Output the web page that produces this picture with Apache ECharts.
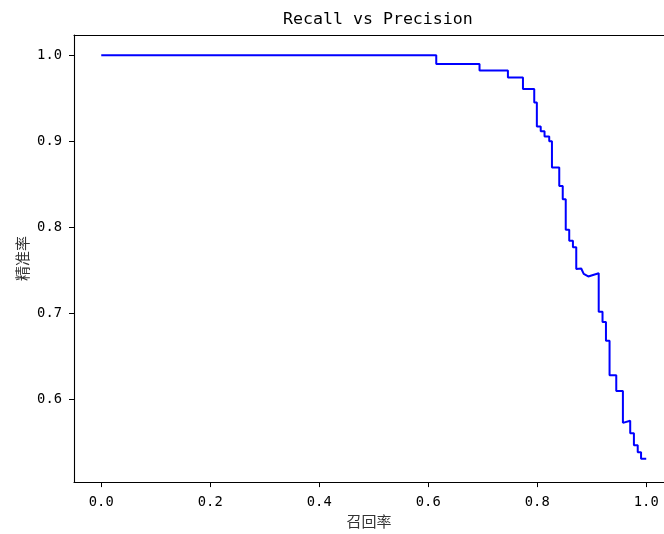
<!DOCTYPE html>
<html>
<head>
<meta charset="utf-8">
<script src="https://cdn.jsdelivr.net/npm/echarts@6/dist/echarts.min.js"></script>
<style>html,body{margin:0;padding:0;background:#fff;}#c{width:664px;height:534px;}</style>
</head>
<body>
<div id="c"></div>
<script>
// Recall (x) values of the curve vertices
const recall = [
  0, 0.6147, 0.6147, 0.6941, 0.6941, 0.7462, 0.7462, 0.7738, 0.7738, 0.7945,
  0.7945, 0.7993, 0.7993, 0.8064, 0.8064, 0.8134, 0.8134, 0.8220, 0.8220, 0.8270,
  0.8270, 0.8404, 0.8404, 0.8468, 0.8468, 0.8523, 0.8523, 0.8587, 0.8587, 0.8655,
  0.8655, 0.8716, 0.8716, 0.8807, 0.8853, 0.8936, 0.9128, 0.9128, 0.9198, 0.9198,
  0.9261, 0.9261, 0.9327, 0.9327, 0.9450, 0.9450, 0.9572, 0.9572, 0.9706, 0.9706,
  0.9774, 0.9774, 0.9844, 0.9844, 0.9905, 0.9905, 1.0
];
// Precision (y) values of the curve vertices
const precision = [
  1.0, 1.0, 0.9899, 0.9899, 0.9822, 0.9822, 0.9741, 0.9741, 0.9606, 0.9606,
  0.9451, 0.9451, 0.9170, 0.9170, 0.9115, 0.9115, 0.9054, 0.9054, 0.9000, 0.9000,
  0.8695, 0.8695, 0.8478, 0.8478, 0.8324, 0.8324, 0.7971, 0.7971, 0.7841, 0.7841,
  0.7765, 0.7765, 0.7514, 0.7519, 0.7456, 0.7427, 0.7464, 0.7016, 0.7016, 0.6896,
  0.6896, 0.6680, 0.6680, 0.6278, 0.6278, 0.6095, 0.6095, 0.5724, 0.5748, 0.5603,
  0.5603, 0.5464, 0.5464, 0.5383, 0.5383, 0.5307, 0.5307
];
const xTicks = [0.0, 0.2, 0.4, 0.6, 0.8, 1.0];
const yTicks = [0.6, 0.7, 0.8, 0.9, 1.0];
const xRange = [-0.05, 1.0326];   // visible part of the x axis (right side cropped)
const yRange = [0.5035, 1.0235];
const titleText = 'Recall vs Precision';
const xName = '召回率';
const yName = '精准率';

const pts = recall.map((r, i) => [r, precision[i]]);

const mono = "'DejaVu Sans Mono', 'Liberation Mono', monospace";
const cjk = "'Noto Sans CJK SC', sans-serif";
const chart = echarts.init(document.getElementById('c'), null, {renderer: 'canvas'});
chart.setOption({
  animation: false,
  backgroundColor: '#fff',
  title: {
    text: titleText,
    left: 278,
    top: 6,
    textStyle: {fontFamily: mono, fontSize: 16.6, fontWeight: 'normal', color: '#000'}
  },
  grid: {left: 74, top: 35, width: 590, height: 449, show: false},
  xAxis: [{
    type: 'value', min: xRange[0], max: xRange[1], position: 'bottom',
    name: xName, nameLocation: 'middle', nameGap: 31,
    nameTextStyle: {fontFamily: cjk, fontSize: 15, color: '#333'},
    axisLine: {show: true, onZero: false, lineStyle: {color: '#000', width: 1.1}},
    axisTick: {show: true, inside: false, length: 5, customValues: xTicks, lineStyle: {color: '#000', width: 1}},
    axisLabel: {customValues: xTicks, formatter: v => v.toFixed(1), margin: 13,
      fontFamily: mono, fontSize: 13.8, color: '#000'},
    splitLine: {show: false}
  }, {
    type: 'value', min: xRange[0], max: xRange[1], position: 'top',
    axisLine: {show: true, onZero: false, lineStyle: {color: '#000', width: 1.1}},
    axisTick: {show: false}, axisLabel: {show: false}, splitLine: {show: false}
  }],
  yAxis: {
    type: 'value', min: yRange[0], max: yRange[1],
    name: yName, nameLocation: 'middle', nameRotate: 90, nameGap: 44,
    nameMoveOverlap: false,
    nameTextStyle: {fontFamily: cjk, fontSize: 15, color: '#333'},
    axisLine: {show: true, onZero: false, lineStyle: {color: '#000', width: 1.1}},
    axisTick: {show: true, inside: false, length: 5, customValues: yTicks, lineStyle: {color: '#000', width: 1}},
    axisLabel: {customValues: yTicks, formatter: v => v.toFixed(1), margin: 12,
      fontFamily: mono, fontSize: 13.8, color: '#000'},
    splitLine: {show: false}
  },
  series: [{
    type: 'line',
    xAxisIndex: 0,
    data: pts,
    showSymbol: false,
    symbol: 'none',
    lineStyle: {color: '#0000ff', width: 2},
    clip: false
  }]
});
</script>
</body>
</html>
